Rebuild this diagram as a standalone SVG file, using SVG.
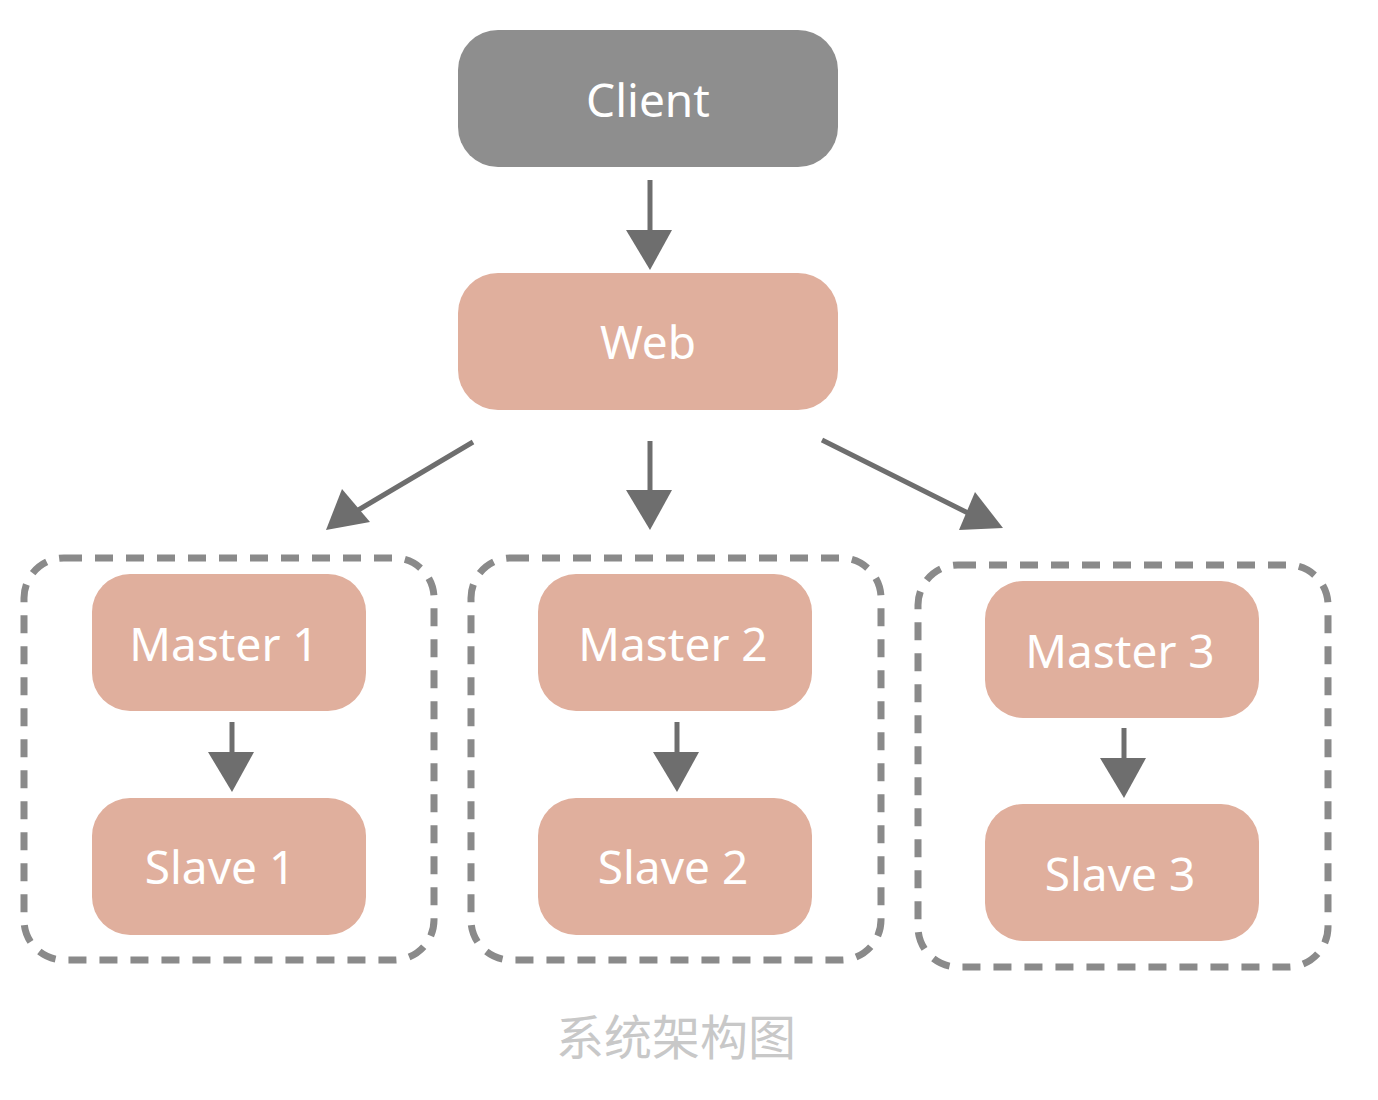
<svg xmlns="http://www.w3.org/2000/svg" width="1378" height="1100" viewBox="0 0 1378 1100">
<style>
.node{fill:#e0af9d}
.client{fill:#8e8e8e}
.lbl{font-family:"Noto Sans","DejaVu Sans",sans-serif;font-size:46px;fill:#ffffff;text-anchor:middle;dominant-baseline:central}
.grp{fill:none;stroke:#8a8a8a;stroke-width:7;stroke-dasharray:18 13}
.conn{stroke:#6e6e6e;stroke-width:5;fill:none}
.cap{font-family:"Noto Sans CJK SC",sans-serif;font-size:48px;fill:#c8c8c8;text-anchor:middle}
</style>
<defs>
<marker id="ah" viewBox="0 0 10 10" refX="10" refY="5" markerWidth="9" markerHeight="9" markerUnits="userSpaceOnUse" orient="auto">
<path d="M0,0 L10,5 L0,10 z" fill="#6e6e6e"/>
</marker>
</defs>
<rect width="1378" height="1100" fill="#ffffff"/>
<g id="group1"><rect class="grp" x="24" y="558" width="410" height="402" rx="40"/></g>
<g id="group2"><rect class="grp" x="471" y="558" width="410" height="402" rx="40"/></g>
<g id="group3"><rect class="grp" x="918" y="565" width="410" height="402" rx="40"/></g>
<g id="client"><rect class="client" x="458" y="30" width="380" height="137" rx="40"/><text class="lbl" x="648" y="99">Client</text></g>
<g id="web"><rect class="node" x="458" y="273" width="380" height="137" rx="40"/><text class="lbl" x="648" y="341">Web</text></g>
<g id="master1"><rect class="node" x="92" y="574" width="274" height="137" rx="38"/><text class="lbl" x="224" y="643">Master 1</text></g>
<g id="slave1"><rect class="node" x="92" y="798" width="274" height="137" rx="38"/><text class="lbl" x="220" y="866">Slave 1</text></g>
<g id="master2"><rect class="node" x="538" y="574" width="274" height="137" rx="38"/><text class="lbl" x="673" y="643">Master 2</text></g>
<g id="slave2"><rect class="node" x="538" y="798" width="274" height="137" rx="38"/><text class="lbl" x="673" y="866">Slave 2</text></g>
<g id="master3"><rect class="node" x="985" y="581" width="274" height="137" rx="38"/><text class="lbl" x="1120" y="650">Master 3</text></g>
<g id="slave3"><rect class="node" x="985" y="804" width="274" height="137" rx="38"/><text class="lbl" x="1120" y="873">Slave 3</text></g>
<g id="connectors" fill="#6e6e6e">
<line class="conn" x1="650" y1="180" x2="650" y2="232"/>
<polygon points="626,230 672,230 650,270"/>
<line class="conn" x1="650" y1="441" x2="650" y2="492"/>
<polygon points="626,490 672,490 650,530"/>
<line class="conn" x1="473" y1="442" x2="355" y2="512"/>
<polygon points="342,489 370,522 326,530"/>
<line class="conn" x1="822" y1="440" x2="970" y2="514"/>
<polygon points="975,492 959,530 1003,528"/>
<line class="conn" x1="232" y1="722" x2="232" y2="755"/>
<polygon points="208,752 254,752 232,792"/>
<line class="conn" x1="677" y1="722" x2="677" y2="755"/>
<polygon points="653,752 699,752 677,792"/>
<line class="conn" x1="1124" y1="728" x2="1124" y2="761"/>
<polygon points="1100,758 1146,758 1124,798"/>
</g>
<text class="cap" x="676" y="1055">系统架构图</text>
</svg>
